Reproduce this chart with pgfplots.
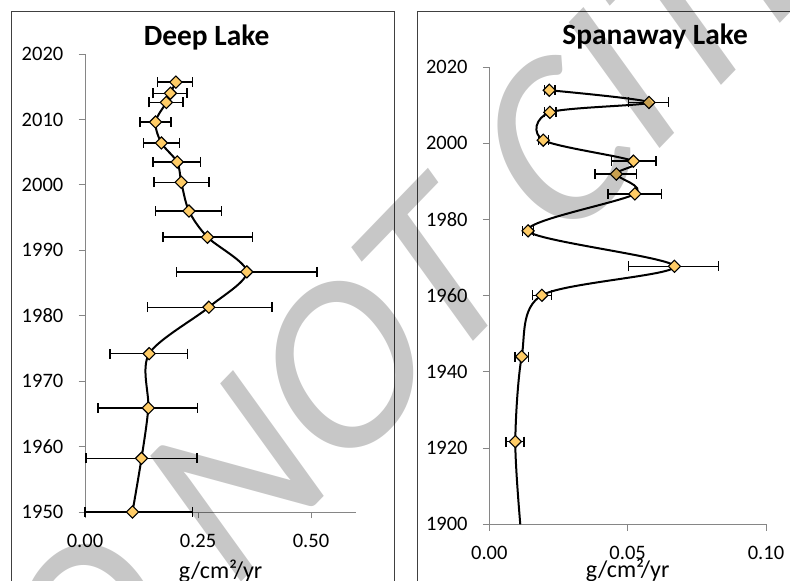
\documentclass[border=0pt]{standalone}
\usepackage{pgfplots}
\pgfplotsset{compat=1.18}
\usepackage{pgfplotstable}
\usepackage{fontspec}
\setmainfont{Carlito}
\definecolor{mk}{RGB}{255,204,102}
\definecolor{axgray}{RGB}{134,134,134}

\pgfplotstableread{
y x ep em
2015.7 0.201 0.037 0.041
2014.0 0.189 0.037 0.039
2012.6 0.180 0.037 0.038
2009.6 0.156 0.034 0.034
2006.4 0.169 0.040 0.040
2003.5 0.204 0.052 0.054
2000.4 0.213 0.061 0.060
1996.0 0.230 0.072 0.074
1992.0 0.271 0.099 0.098
1986.7 0.358 0.155 0.155
1981.3 0.274 0.140 0.136
1974.2 0.142 0.085 0.087
1965.9 0.140 0.109 0.111
1958.2 0.125 0.123 0.123
1950.0 0.105 0.133 0.105
}\deep

\pgfplotstableread{
y x ep em
2013.9 0.0217 0.0021 0.0018
2010.7 0.0577 0.0071 0.0075
2008.1 0.0219 0.0022 0.0019
2000.8 0.0195 0.0019 0.0018
1995.3 0.0521 0.0082 0.0080
1991.9 0.0459 0.0074 0.0077
1986.7 0.0526 0.0096 0.0097
1977.0 0.0140 0.0019 0.0019
1967.7 0.0669 0.0160 0.0165
1960.1 0.0190 0.0035 0.0033
1944.0 0.0117 0.0025 0.0024
1921.7 0.0094 0.0031 0.0034
}\spana

\pgfplotstableread{
y x
2013.9 0.0217
2010.7 0.0577
2008.1 0.0219
2000.8 0.0195
1995.3 0.0521
1991.9 0.0459
1986.7 0.0526
1977.0 0.0140
1967.7 0.0669
1960.1 0.0190
1944.0 0.0117
1921.7 0.0094
1900.0 0.0112
}\spanaline

\pgfplotsset{
  lakeaxis/.style={
    scale only axis,
    axis x line*=bottom, axis y line*=left,
    axis line style={axgray, line width=0.9pt},
    every tick/.style={axgray, line width=0.9pt},
    tick align=outside, major tick length=6.5pt,
    clip=false,
    tick label style={font=\fontsize{20.5}{24}\selectfont, text=black},
    xticklabel style={anchor=base, yshift=-29pt},
    yticklabel style={anchor=east, inner sep=0pt, xshift=-15pt},
    every axis x label/.style={at={(axis description cs:0.5,0)}, anchor=base, font=\fontsize{24}{28}\selectfont},
    xlabel={g/cm²/yr},
  },
  curve/.style={black, line width=2pt, smooth, no markers},
  ebars/.style={draw=none, no markers,
    error bars/.cd, x dir=both, x explicit,
    error bar style={black, line width=1.4pt},
    error mark options={black, line width=1.4pt, mark size=5pt, rotate=90}},
  dots/.style={only marks, mark=square*, mark size=4.3pt,
    mark options={rotate=45, fill=mk, draw=black, line width=1.1pt}},
}

\begin{document}
\begin{tikzpicture}[x=1pt,y=1pt]
\useasboundingbox (0,0) rectangle (790,581);
\clip (0,0) rectangle (790,581);
\draw[black!75, line width=0.9pt] (11,570) rectangle (394,-20);
\draw[black!75, line width=0.9pt] (417,570) rectangle (830,-20);

\begin{axis}[lakeaxis,
  at={(85pt,69pt)}, anchor=south west,
  width=271.2pt, height=458pt,
  xmin=0, xmax=0.6, ymin=1950, ymax=2020,
  xtick={0,0.25,0.5}, xticklabels={0.00,0.25,0.50},
  ytick={1950,1960,1970,1980,1990,2000,2010,2020},
  yticklabels={1950,1960,1970,1980,1990,2000,2010,2020},
  xlabel style={yshift=-66pt},
]
\addplot[curve] table[x=x,y=y]{\deep};
\addplot[ebars] table[x=x,y=y,x error plus=ep,x error minus=em]{\deep};
\addplot[dots] table[x=x,y=y]{\deep};
\end{axis}

\begin{axis}[lakeaxis,
  at={(489.3pt,56.7pt)}, anchor=south west,
  width=276.7pt, height=457.3pt,
  xmin=0, xmax=0.1, ymin=1900, ymax=2020,
  xtick={0,0.05,0.1}, xticklabels={0.00,0.05,0.10},
  ytick={1900,1920,1940,1960,1980,2000,2020},
  yticklabels={1900,1920,1940,1960,1980,2000,2020},
  xlabel style={yshift=-53.5pt},
]
\addplot[curve] table[x=x,y=y]{\spanaline};
\addplot[ebars] table[x=x,y=y,x error plus=ep,x error minus=em]{\spana};
\addplot[dots] table[x=x,y=y]{\spana};
\end{axis}

\node[font=\bfseries\fontsize{29.4}{34}\selectfont, anchor=base] at (206.7,535.3) {Deep Lake};
\node[font=\bfseries\fontsize{29.4}{34}\selectfont, anchor=base] at (655.2,536) {Spanaway Lake};

\node[rotate=46, xslant=0.18, font=\fontsize{238}{238}\selectfont, text=black, text opacity=0.22, inner sep=0pt] at (369.8,241.8) {DO NOT CITE};
\end{tikzpicture}
\end{document}
